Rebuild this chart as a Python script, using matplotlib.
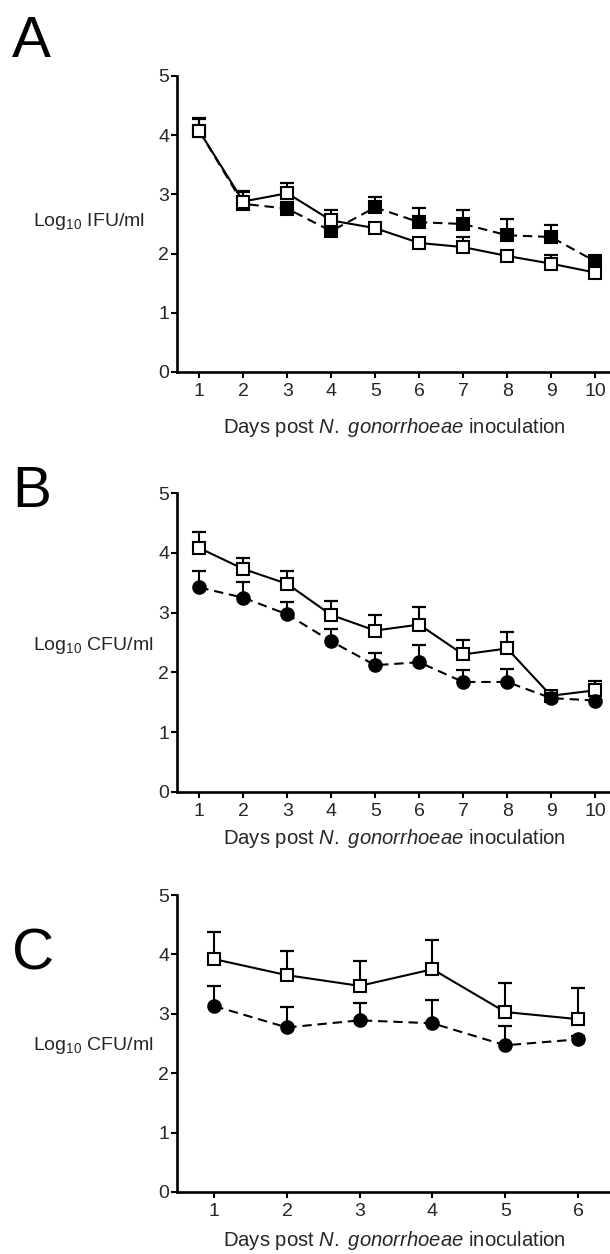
"""
plot.py
Three-panel time course (A: IFU, B/C: CFU) with upper-only error bars.
"""

import matplotlib
matplotlib.use("Agg")
import matplotlib.pyplot as plt

FONT = ["Liberation Sans Narrow", "Liberation Sans", "DejaVu Sans"]
plt.rcParams["font.family"] = FONT
plt.rcParams["mathtext.fontset"] = "custom"
plt.rcParams["mathtext.rm"] = "Liberation Sans"
plt.rcParams["mathtext.it"] = "Liberation Sans:italic"
plt.rcParams["mathtext.default"] = "regular"

# ---- data ----
days_ab = [1, 2, 3, 4, 5, 6, 7, 8, 9, 10]
days_c = [1, 2, 3, 4, 5, 6]

a_open = [4.07, 2.88, 3.02, 2.56, 2.43, 2.18, 2.11, 1.96, 1.83, 1.68]
a_open_err = [0.22, 0.18, 0.17, 0.18, 0.08, 0.08, 0.17, 0.08, 0.14, 0.06]
a_fill = [4.07, 2.84, 2.76, 2.38, 2.78, 2.53, 2.50, 2.31, 2.28, 1.87]
a_fill_err = [0.20, 0.20, 0.12, 0.10, 0.17, 0.24, 0.23, 0.28, 0.20, 0.06]

b_open = [4.08, 3.73, 3.48, 2.96, 2.70, 2.80, 2.30, 2.40, 1.61, 1.70]
b_open_err = [0.27, 0.18, 0.22, 0.24, 0.26, 0.30, 0.24, 0.28, 0.08, 0.15]
b_fill = [3.42, 3.25, 2.97, 2.52, 2.12, 2.17, 1.84, 1.84, 1.57, 1.53]
b_fill_err = [0.28, 0.26, 0.21, 0.21, 0.20, 0.28, 0.20, 0.22, 0.08, 0.08]

c_open = [3.92, 3.65, 3.47, 3.75, 3.03, 2.91]
c_open_err = [0.46, 0.41, 0.42, 0.49, 0.49, 0.53]
c_fill = [3.13, 2.77, 2.89, 2.84, 2.47, 2.57]
c_fill_err = [0.34, 0.34, 0.30, 0.39, 0.33, 0.05]

Y_TICKS = [0, 1, 2, 3, 4, 5]
XLABEL = r"Days post $\it{N.}$ $\it{gonorrhoeae}$ inoculation"
TXT = "#262626"

W, H = 610, 1254
fig = plt.figure(figsize=(W / 100, H / 100), dpi=100)


def px_axes(left, top, right, bottom):
    return fig.add_axes([left / W, 1 - bottom / H, (right - left) / W, (bottom - top) / H])


def draw_series(ax, x, y, err, marker, filled, dashed, ms, z):
    # upper-only error bars: stem + cap
    tops = [v + e for v, e in zip(y, err)]
    ax.vlines(x, y, tops, color="black", lw=1.5, zorder=z)
    ax.plot(x, tops, ls="none", marker="_", ms=9.5, mew=1.6, color="black", zorder=z)
    ax.plot(x, y, color="black", lw=1.5,
            linestyle=(0, (4.5, 2.8)) if dashed else "-",
            marker=marker, markersize=ms, markeredgewidth=1.5,
            markerfacecolor="black" if filled else "white",
            markeredgecolor="black", zorder=z + 0.5, clip_on=False)


def style_axes(ax, xticks, xlim):
    ax.set_xlim(*xlim)
    ax.set_ylim(0, 5)
    ax.set_yticks(Y_TICKS)
    ax.set_xticks(xticks)
    for s in ("top", "right"):
        ax.spines[s].set_visible(False)
    for s in ("left", "bottom"):
        ax.spines[s].set_linewidth(1.9)
    ax.tick_params(axis="y", length=4, width=1.5, pad=1.5, labelsize=14, labelcolor=TXT)
    ax.tick_params(axis="x", length=4.5, width=1.5, pad=3.5, labelsize=14, labelcolor=TXT)


# ---- panel A ----
ax = px_axes(177, 76, 610, 372)
draw_series(ax, days_ab, a_fill, a_fill_err, "s", True, True, 8.5, 2)
draw_series(ax, days_ab, a_open, a_open_err, "s", False, False, 9, 3)
style_axes(ax, days_ab, (0.493, 10.34))

# ---- panel B ----
ax = px_axes(177, 493, 610, 792)
draw_series(ax, days_ab, b_open, b_open_err, "s", False, False, 9, 2)
draw_series(ax, days_ab, b_fill, b_fill_err, "o", True, True, 9, 3)
style_axes(ax, days_ab, (0.493, 10.34))

# ---- panel C ----
ax = px_axes(177, 895, 610, 1192)
draw_series(ax, days_c, c_fill, c_fill_err, "o", True, True, 9, 2)
draw_series(ax, days_c, c_open, c_open_err, "s", False, False, 9, 3)
style_axes(ax, days_c, (0.488, 6.44))

# ---- labels ----
for letter, y in (("A", 57), ("B", 507), ("C", 970)):
    fig.text(12 / W, 1 - y / H, letter, fontsize=42, family=["Liberation Sans", "DejaVu Sans"],
             va="baseline", ha="left")

for text, y in ((r"Log$_{10}$ IFU/ml", 222), (r"Log$_{10}$ CFU/ml", 645), (r"Log$_{10}$ CFU/ml", 1045)):
    fig.text(33 / W, 1 - y / H, text, fontsize=14, va="center", ha="left", color=TXT)

for y in (428, 838, 1240):
    fig.text(394 / W, 1 - y / H, XLABEL, fontsize=14.6, va="center", ha="center", color=TXT)

fig.savefig("out.png", dpi=100)
